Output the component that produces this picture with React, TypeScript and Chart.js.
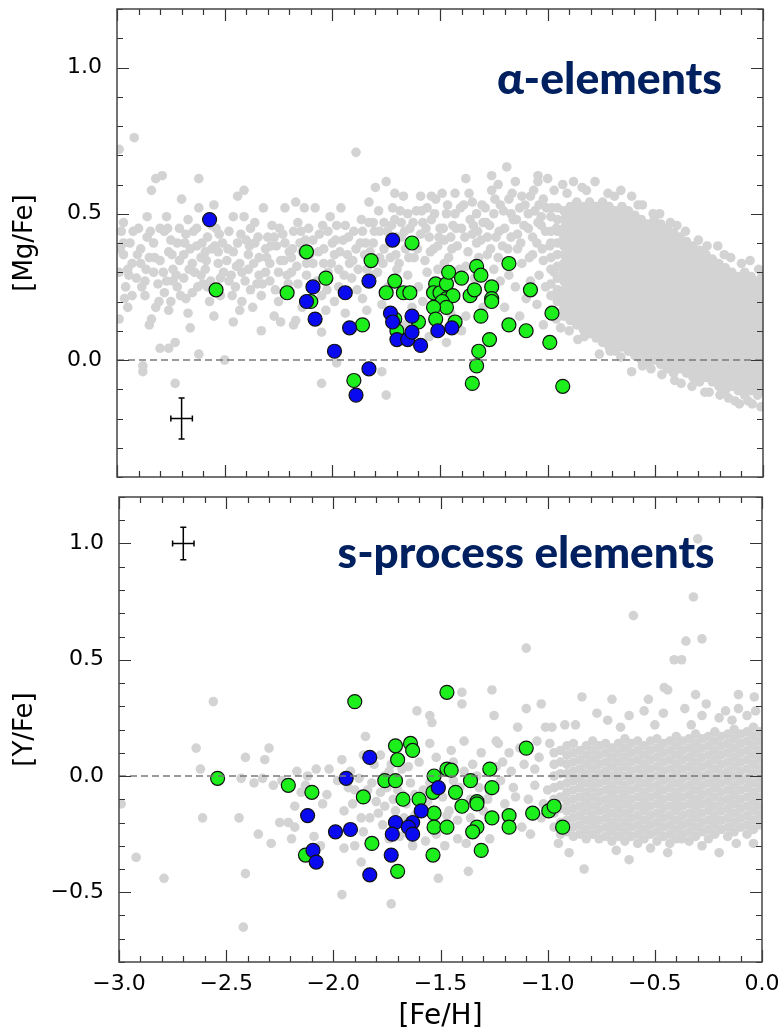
import React, { useEffect, useRef } from "react";
import { Chart, registerables } from "chart.js";

Chart.register(...registerables);

// ---------------- data ----------------
const xRange = [-3.0, 0.0];
const topYRange = [-0.4, 1.2];
const botYRange = [-0.8, 1.2];
const zeroLineX = [-3.0, 0.0];

const xTitle = "[Fe/H]";
const topYTitle = "[Mg/Fe]";
const botYTitle = "[Y/Fe]";
const topLabel = "α-elements";
const botLabel = "s-process elements";

// representative error bars
const topErrX = [-2.7];
const topErrY = [-0.2];
const botErrX = [-2.7];
const botErrY = [1.0];
const errXSize = [0.05];
const errYSize = [0.07];

const topGreen: [number, number][] = [
  [-2.54, 0.24], [-2.21, 0.23], [-2.12, 0.37], [-2.10, 0.20], [-2.03, 0.28], [-1.86, 0.12],
  [-1.82, 0.34], [-1.90, -0.07], [-1.75, 0.23], [-1.71, 0.27], [-1.67, 0.23], [-1.64, 0.23],
  [-1.63, 0.40], [-1.70, 0.10], [-1.71, 0.14], [-1.60, 0.13], [-1.52, 0.26], [-1.53, 0.23],
  [-1.50, 0.23], [-1.47, 0.26], [-1.47, 0.21], [-1.44, 0.22], [-1.49, 0.20], [-1.47, 0.18],
  [-1.53, 0.18], [-1.52, 0.14], [-1.43, 0.13], [-1.46, 0.30], [-1.40, 0.28], [-1.33, 0.32],
  [-1.31, 0.29], [-1.18, 0.33], [-1.36, 0.22], [-1.34, 0.24], [-1.26, 0.25], [-1.26, 0.21],
  [-1.26, 0.20], [-1.31, 0.15], [-1.18, 0.12], [-1.27, 0.07], [-1.32, 0.03], [-1.33, -0.02],
  [-1.35, -0.08], [-1.08, 0.24], [-0.98, 0.16], [-1.10, 0.10], [-0.99, 0.06], [-0.93, -0.09],
];

const topBlue: [number, number][] = [
  [-2.57, 0.48], [-2.12, 0.20], [-2.09, 0.25], [-2.08, 0.14], [-1.94, 0.23], [-1.92, 0.11],
  [-1.99, 0.03], [-1.83, 0.27], [-1.83, -0.03], [-1.89, -0.12], [-1.72, 0.41], [-1.73, 0.16],
  [-1.72, 0.13], [-1.70, 0.07], [-1.65, 0.07], [-1.63, 0.15], [-1.63, 0.095], [-1.59, 0.05],
  [-1.51, 0.10], [-1.445, 0.11],
];

// comparison stars, scattered halo + outskirts
const topGray: [number, number][] = [
  [-2.99, 0.72], [-2.98, 0.44], [-2.97, 0.36], [-2.99, 0.30], [-2.96, 0.25], [-2.94, 0.40], [-2.93, 0.33], [-2.92, 0.76], [-2.95, 0.18], [-2.91, 0.28], [-2.99, 0.14], [-2.97, 0.47],
  [-2.88, -0.02], [-2.88, -0.04], [-2.86, 0.42], [-2.84, 0.58], [-2.82, 0.62], [-2.85, 0.35], [-2.83, 0.30], [-2.87, 0.22], [-2.81, 0.26], [-2.89, 0.38], [-2.84, 0.14], [-2.85, 0.12], [-2.80, 0.45],
  [-2.79, 0.63], [-2.78, 0.44], [-2.76, 0.37], [-2.74, 0.31], [-2.77, 0.27], [-2.72, 0.40], [-2.75, 0.20], [-2.71, 0.34], [-2.73, -0.08], [-2.80, 0.04], [-2.76, 0.04], [-2.73, 0.06], [-2.70, 0.55], [-2.76, 0.17], [-2.72, 0.25],
  [-2.62, 0.62], [-2.62, 0.52], [-2.68, 0.43], [-2.66, 0.38], [-2.64, 0.30], [-2.69, 0.28], [-2.61, 0.35], [-2.65, 0.23], [-2.62, 0.02], [-2.67, 0.16], [-2.63, 0.45], [-2.60, 0.26], [-2.66, 0.11],
  [-2.55, 0.53], [-2.58, 0.42], [-2.56, 0.38], [-2.53, 0.33], [-2.59, 0.31], [-2.52, 0.28], [-2.57, 0.20], [-2.54, 0.45], [-2.51, 0.40], [-2.55, 0.15], [-2.50, 0.00],
  [-2.44, 0.56], [-2.41, 0.58], [-2.41, 0.49], [-2.48, 0.44], [-2.46, 0.37], [-2.43, 0.33], [-2.47, 0.29], [-2.45, 0.25], [-2.42, 0.20], [-2.40, 0.41], [-2.46, 0.13], [-2.43, 0.17],
  [-2.32, 0.52], [-2.38, 0.45], [-2.36, 0.40], [-2.34, 0.35], [-2.31, 0.30], [-2.39, 0.31], [-2.35, 0.26], [-2.33, 0.22], [-2.30, 0.42], [-2.37, 0.18], [-2.33, 0.10],
  [-2.22, 0.52], [-2.28, 0.46], [-2.26, 0.39], [-2.24, 0.34], [-2.21, 0.29], [-2.29, 0.27], [-2.25, 0.20], [-2.23, 0.43], [-2.27, 0.15], [-2.20, 0.37], [-2.24, 0.13],
  [-2.17, 0.54], [-2.13, 0.52], [-2.18, 0.44], [-2.15, 0.40], [-2.12, 0.33], [-2.19, 0.30], [-2.16, 0.26], [-2.14, 0.18], [-2.11, 0.45], [-2.18, 0.12], [-2.17, 0.135],
  [-2.08, 0.52], [-2.01, 0.49], [-2.06, 0.43], [-2.04, 0.38], [-2.09, 0.33], [-2.02, 0.30], [-2.05, 0.22], [-2.03, 0.17], [-2.00, 0.40], [-2.05, 0.095], [-2.05, -0.08],
  [-1.98, 0.46], [-1.95, 0.41], [-1.93, 0.36], [-1.97, 0.31], [-1.91, 0.28], [-1.99, 0.20], [-1.94, 0.16], [-1.89, 0.71], [-1.96, 0.52], [-1.98, -0.01], [-1.90, 0.44],
  [-1.80, 0.59], [-1.83, 0.54], [-1.83, 0.47], [-1.81, 0.47], [-1.87, 0.40], [-1.85, 0.36], [-1.88, 0.31], [-1.81, 0.29], [-1.86, 0.21], [-1.84, 0.17], [-1.75, -0.12], [-1.77, -0.04],
  [-1.75, 0.61], [-1.71, 0.57], [-1.71, 0.48], [-1.78, 0.44], [-1.76, 0.38], [-1.73, 0.35], [-1.79, 0.30], [-1.74, 0.25], [-1.77, 0.19], [-1.72, 0.52], [-1.70, 0.42],
  [-1.67, 0.56], [-1.61, 0.51], [-1.68, 0.47], [-1.64, 0.45], [-1.66, 0.38], [-1.62, 0.35], [-1.69, 0.33], [-1.65, 0.29], [-1.60, 0.25], [-1.63, 0.18], [-1.66, 0.12],
  [-1.59, 0.56], [-1.54, 0.56], [-1.56, 0.52], [-1.52, 0.55], [-1.58, 0.47], [-1.55, 0.42], [-1.53, 0.38], [-1.57, 0.34], [-1.51, 0.31], [-1.58, 0.20], [-1.55, 0.08], [-1.50, 0.45],
  [-1.49, 0.57], [-1.43, 0.57], [-1.47, 0.50], [-1.44, 0.46], [-1.48, 0.41], [-1.42, 0.39], [-1.46, 0.35], [-1.41, 0.31], [-1.45, 0.16], [-1.40, 0.10], [-1.47, 0.06],
  [-1.38, 0.62], [-1.36, 0.48], [-1.39, 0.53], [-1.33, 0.50], [-1.35, 0.43], [-1.31, 0.41], [-1.37, 0.37], [-1.32, 0.35], [-1.34, 0.28], [-1.30, 0.18], [-1.38, 0.15],
  [-1.26, 0.63], [-1.23, 0.60], [-1.26, 0.58], [-1.29, 0.52], [-1.22, 0.53], [-1.27, 0.46], [-1.24, 0.42], [-1.21, 0.39], [-1.28, 0.36], [-1.25, 0.31], [-1.22, 0.27], [-1.20, 0.18],
  [-1.19, 0.66], [-1.15, 0.61], [-1.18, 0.55], [-1.13, 0.52], [-1.16, 0.48], [-1.11, 0.46], [-1.17, 0.42], [-1.14, 0.38], [-1.12, 0.33], [-1.18, 0.29], [-1.15, 0.25], [-1.10, 0.21], [-1.13, 0.15],
  [-1.045, 0.63], [-1.045, 0.61], [-1.00, 0.62], [-1.08, 0.56], [-1.02, 0.55], [-1.06, 0.51], [-1.03, 0.49], [-1.09, 0.45], [-1.01, 0.44], [-1.05, 0.40], [-1.07, 0.36], [-1.02, 0.34], [-1.04, 0.29], [-1.08, 0.27], [-1.01, 0.25], [-1.05, 0.19], [-1.02, 0.12],
  [-2.97, 0.40], [-2.95, 0.31], [-2.93, 0.22], [-2.90, 0.45], [-2.89, 0.33], [-2.87, 0.27], [-2.86, 0.49], [-2.83, 0.40], [-2.82, 0.18], [-2.80, 0.34], [-2.78, 0.23], [-2.77, 0.49], [-2.75, 0.41], [-2.74, 0.27], [-2.71, 0.45], [-2.69, 0.36], [-2.68, 0.21], [-2.67, 0.48], [-2.65, 0.33], [-2.63, 0.39], [-2.61, 0.29], [-2.59, 0.37], [-2.58, 0.25], [-2.56, 0.46], [-2.53, 0.37], [-2.52, 0.22], [-2.49, 0.34], [-2.48, 0.27], [-2.46, 0.49], [-2.44, 0.40], [-2.42, 0.30], [-2.39, 0.36], [-2.38, 0.24], [-2.36, 0.47], [-2.34, 0.29], [-2.31, 0.38], [-2.29, 0.33], [-2.27, 0.42], [-2.25, 0.30], [-2.22, 0.40], [-2.19, 0.35], [-2.16, 0.47], [-2.14, 0.37], [-2.12, 0.29], [-2.09, 0.41], [-2.07, 0.27], [-2.04, 0.33], [-2.02, 0.44], [-1.99, 0.36], [-1.97, 0.25], [-1.94, 0.46], [-1.92, 0.33], [-1.89, 0.38], [-1.86, 0.44], [-1.84, 0.31], [-1.81, 0.40], [-1.78, 0.35], [-1.76, 0.47], [-1.73, 0.40], [-1.70, 0.31], [-1.68, 0.42], [-1.65, 0.50], [-1.62, 0.40], [-1.59, 0.43], [-1.56, 0.30], [-1.54, 0.48], [-1.51, 0.39], [-1.48, 0.33], [-1.45, 0.42], [-1.43, 0.50], [-1.40, 0.45], [-1.38, 0.32], [-1.35, 0.54], [-1.33, 0.40], [-1.30, 0.47], [-1.28, 0.42], [-1.25, 0.50], [-1.23, 0.35], [-1.20, 0.45], [-1.17, 0.50], [-1.14, 0.43], [-1.12, 0.56], [-1.09, 0.50], [-1.07, 0.42], [-1.04, 0.53], [-1.03, 0.46],
  [-2.985, 0.38], [-2.965, 0.21], [-2.945, 0.29], [-2.925, 0.44], [-2.905, 0.36], [-2.885, 0.25], [-2.865, 0.31], [-2.845, 0.44], [-2.825, 0.35], [-2.805, 0.20], [-2.785, 0.30], [-2.765, 0.45], [-2.745, 0.36], [-2.725, 0.29], [-2.705, 0.22], [-2.685, 0.40], [-2.665, 0.31], [-2.645, 0.44], [-2.625, 0.25], [-2.605, 0.40], [-2.585, 0.34], [-2.565, 0.27], [-2.545, 0.39], [-2.525, 0.43], [-2.505, 0.30], [-2.485, 0.38], [-2.465, 0.22], [-2.445, 0.32], [-2.425, 0.43], [-2.405, 0.27], [-2.385, 0.39], [-2.365, 0.33], [-2.345, 0.42], [-2.325, 0.26], [-2.305, 0.35], [-2.285, 0.39], [-2.265, 0.24], [-2.245, 0.45], [-2.225, 0.34], [-2.205, 0.26], [-2.185, 0.38], [-2.165, 0.32], [-2.145, 0.44], [-2.125, 0.41], [-2.105, 0.36], [-2.085, 0.26], [-2.065, 0.37], [-2.045, 0.46], [-2.025, 0.24], [-2.005, 0.33],
  [-1.985, 0.41], [-1.965, 0.37], [-1.945, 0.29], [-1.925, 0.42], [-1.905, 0.34], [-1.885, 0.24], [-1.865, 0.48], [-1.845, 0.40], [-1.825, 0.37], [-1.805, 0.44], [-1.785, 0.51], [-1.765, 0.33], [-1.745, 0.44], [-1.725, 0.46], [-1.705, 0.36], [-1.685, 0.51], [-1.665, 0.44], [-1.645, 0.35], [-1.625, 0.47], [-1.605, 0.38], [-1.585, 0.51], [-1.565, 0.45], [-1.545, 0.37], [-1.525, 0.50], [-1.505, 0.42], [-1.485, 0.45], [-1.465, 0.53], [-1.445, 0.38], [-1.425, 0.45], [-1.405, 0.52], [-1.385, 0.42], [-1.365, 0.57], [-1.345, 0.46], [-1.325, 0.44], [-1.305, 0.53], [-1.285, 0.47], [-1.265, 0.38], [-1.245, 0.55], [-1.225, 0.44], [-1.205, 0.51], [-1.185, 0.38], [-1.165, 0.57], [-1.145, 0.48], [-1.125, 0.40], [-1.105, 0.53], [-1.085, 0.35], [-1.065, 0.58], [-1.045, 0.47], [-1.025, 0.38], [-1.005, 0.52],
  [-0.97, 0.58], [-0.93, 0.60], [-0.88, 0.61], [-0.84, 0.59], [-0.78, 0.61], [-0.66, 0.58], [-0.61, 0.56], [-0.56, 0.53], [-0.48, 0.50], [-0.40, 0.46], [-0.21, 0.39], [-0.15, 0.35], [-0.06, 0.34],
  [-0.94, 0.11], [-0.86, 0.07], [-0.76, 0.02], [-0.61, -0.04], [-0.52, -0.03], [-0.38, -0.08], [-0.25, -0.11], [-0.16, -0.13], [-0.11, -0.15], [-0.05, -0.15],
  [-0.91, 0.57], [-0.82, 0.58], [-0.72, 0.57], [-0.69, 0.56], [-0.58, 0.53], [-0.51, 0.50], [-0.43, 0.47], [-0.36, 0.44], [-0.30, 0.41], [-0.26, 0.39], [-0.18, 0.36], [-0.10, 0.33], [-0.02, 0.31],
  [-0.90, 0.10], [-0.83, 0.08], [-0.71, 0.03], [-0.66, 0.01], [-0.56, -0.02], [-0.47, -0.05], [-0.41, -0.07], [-0.33, -0.09], [-0.27, -0.11], [-0.20, -0.12], [-0.13, -0.14], [-0.07, -0.14], [-0.01, -0.16],
  [-0.98, 0.52], [-0.96, 0.45], [-0.97, 0.30], [-0.95, 0.22], [-0.99, 0.39], [-0.96, 0.14],
];

// dense thin-disk cloud of the comparison sample, read column by column: [Fe/H] -> [Mg/Fe] values
const topDiskCols: [number, number[]][] = [
  [-0.985, [0.17, 0.22, 0.26, 0.31, 0.35, 0.40, 0.44, 0.49]],
  [-0.955, [0.16, 0.20, 0.24, 0.28, 0.32, 0.36, 0.40, 0.44, 0.48, 0.52]],
  [-0.925, [0.15, 0.18, 0.21, 0.24, 0.27, 0.30, 0.33, 0.36, 0.39, 0.42, 0.45, 0.48, 0.51]],
  [-0.895, [0.135, 0.165, 0.195, 0.225, 0.255, 0.285, 0.315, 0.345, 0.375, 0.405, 0.435, 0.465, 0.495, 0.525]],
  [-0.865, [0.12, 0.15, 0.18, 0.21, 0.24, 0.27, 0.30, 0.33, 0.36, 0.39, 0.42, 0.45, 0.48, 0.51, 0.54]],
  [-0.835, [0.105, 0.135, 0.165, 0.195, 0.225, 0.255, 0.285, 0.315, 0.345, 0.375, 0.405, 0.435, 0.465, 0.495, 0.525]],
  [-0.805, [0.09, 0.12, 0.15, 0.18, 0.21, 0.24, 0.27, 0.30, 0.33, 0.36, 0.39, 0.42, 0.45, 0.48, 0.51, 0.54]],
  [-0.775, [0.075, 0.105, 0.135, 0.165, 0.195, 0.225, 0.255, 0.285, 0.315, 0.345, 0.375, 0.405, 0.435, 0.465, 0.495, 0.525]],
  [-0.745, [0.06, 0.09, 0.12, 0.15, 0.18, 0.21, 0.24, 0.27, 0.30, 0.33, 0.36, 0.39, 0.42, 0.45, 0.48, 0.51, 0.54]],
  [-0.715, [0.045, 0.075, 0.105, 0.135, 0.165, 0.195, 0.225, 0.255, 0.285, 0.315, 0.345, 0.375, 0.405, 0.435, 0.465, 0.495, 0.525]],
  [-0.685, [0.03, 0.06, 0.09, 0.12, 0.15, 0.18, 0.21, 0.24, 0.27, 0.30, 0.33, 0.36, 0.39, 0.42, 0.45, 0.48, 0.51]],
  [-0.655, [0.045, 0.075, 0.105, 0.135, 0.165, 0.195, 0.225, 0.255, 0.285, 0.315, 0.345, 0.375, 0.405, 0.435, 0.465, 0.495, 0.525]],
  [-0.625, [0.03, 0.06, 0.09, 0.12, 0.15, 0.18, 0.21, 0.24, 0.27, 0.30, 0.33, 0.36, 0.39, 0.42, 0.45, 0.48, 0.51]],
  [-0.595, [0.015, 0.045, 0.075, 0.105, 0.135, 0.165, 0.195, 0.225, 0.255, 0.285, 0.315, 0.345, 0.375, 0.405, 0.435, 0.465, 0.495]],
  [-0.565, [0.00, 0.03, 0.06, 0.09, 0.12, 0.15, 0.18, 0.21, 0.24, 0.27, 0.30, 0.33, 0.36, 0.39, 0.42, 0.45, 0.48]],
  [-0.535, [-0.015, 0.015, 0.045, 0.075, 0.105, 0.135, 0.165, 0.195, 0.225, 0.255, 0.285, 0.315, 0.345, 0.375, 0.405, 0.435, 0.465]],
  [-0.505, [0.00, 0.03, 0.06, 0.09, 0.12, 0.15, 0.18, 0.21, 0.24, 0.27, 0.30, 0.33, 0.36, 0.39, 0.42, 0.45, 0.48]],
  [-0.475, [-0.015, 0.015, 0.045, 0.075, 0.105, 0.135, 0.165, 0.195, 0.225, 0.255, 0.285, 0.315, 0.345, 0.375, 0.405, 0.435, 0.465]],
  [-0.445, [-0.03, 0.00, 0.03, 0.06, 0.09, 0.12, 0.15, 0.18, 0.21, 0.24, 0.27, 0.30, 0.33, 0.36, 0.39, 0.42, 0.45]],
  [-0.415, [-0.045, -0.015, 0.015, 0.045, 0.075, 0.105, 0.135, 0.165, 0.195, 0.225, 0.255, 0.285, 0.315, 0.345, 0.375, 0.405, 0.435]],
  [-0.385, [-0.03, 0.00, 0.03, 0.06, 0.09, 0.12, 0.15, 0.18, 0.21, 0.24, 0.27, 0.30, 0.33, 0.36, 0.39, 0.42]],
  [-0.355, [-0.045, -0.015, 0.015, 0.045, 0.075, 0.105, 0.135, 0.165, 0.195, 0.225, 0.255, 0.285, 0.315, 0.345, 0.375, 0.405]],
  [-0.325, [-0.06, -0.03, 0.00, 0.03, 0.06, 0.09, 0.12, 0.15, 0.18, 0.21, 0.24, 0.27, 0.30, 0.33, 0.36, 0.39]],
  [-0.295, [-0.075, -0.045, -0.015, 0.015, 0.045, 0.075, 0.105, 0.135, 0.165, 0.195, 0.225, 0.255, 0.285, 0.315, 0.345, 0.375]],
  [-0.265, [-0.06, -0.03, 0.00, 0.03, 0.06, 0.09, 0.12, 0.15, 0.18, 0.21, 0.24, 0.27, 0.30, 0.33, 0.36]],
  [-0.235, [-0.075, -0.045, -0.015, 0.015, 0.045, 0.075, 0.105, 0.135, 0.165, 0.195, 0.225, 0.255, 0.285, 0.315, 0.345]],
  [-0.205, [-0.09, -0.06, -0.03, 0.00, 0.03, 0.06, 0.09, 0.12, 0.15, 0.18, 0.21, 0.24, 0.27, 0.30, 0.33]],
  [-0.175, [-0.105, -0.075, -0.045, -0.015, 0.015, 0.045, 0.075, 0.105, 0.135, 0.165, 0.195, 0.225, 0.255, 0.285, 0.315]],
  [-0.145, [-0.09, -0.06, -0.03, 0.00, 0.03, 0.06, 0.09, 0.12, 0.15, 0.18, 0.21, 0.24, 0.27, 0.30]],
  [-0.115, [-0.105, -0.075, -0.045, -0.015, 0.015, 0.045, 0.075, 0.105, 0.135, 0.165, 0.195, 0.225, 0.255, 0.285]],
  [-0.085, [-0.12, -0.09, -0.06, -0.03, 0.00, 0.03, 0.06, 0.09, 0.12, 0.15, 0.18, 0.21, 0.24, 0.27, 0.30]],
  [-0.055, [-0.105, -0.075, -0.045, -0.015, 0.015, 0.045, 0.075, 0.105, 0.135, 0.165, 0.195, 0.225, 0.255, 0.285]],
  [-0.025, [-0.12, -0.09, -0.06, -0.03, 0.00, 0.03, 0.06, 0.09, 0.12, 0.15, 0.18, 0.21, 0.24, 0.27]],
  [-0.005, [-0.105, -0.075, -0.045, -0.015, 0.015, 0.045, 0.075, 0.105, 0.135, 0.165, 0.195, 0.225, 0.255, 0.285]],
];

const botGreen: [number, number][] = [
  [-2.54, -0.01], [-2.21, -0.04], [-2.10, -0.07], [-2.13, -0.34], [-1.90, 0.32], [-1.86, -0.09],
  [-1.82, -0.29], [-1.71, 0.13], [-1.64, 0.14], [-1.63, 0.11], [-1.70, 0.07], [-1.76, -0.02],
  [-1.71, -0.02], [-1.675, -0.10], [-1.60, -0.10], [-1.70, -0.41], [-1.47, 0.36], [-1.53, 0.00],
  [-1.535, -0.07], [-1.53, -0.16], [-1.53, -0.22], [-1.535, -0.34], [-1.10, 0.12], [-1.47, 0.03],
  [-1.45, 0.025], [-1.27, 0.03], [-1.36, -0.02], [-1.26, -0.05], [-1.43, -0.07], [-1.40, -0.13],
  [-1.33, -0.11], [-1.33, -0.12], [-1.26, -0.18], [-1.18, -0.17], [-1.07, -0.16], [-0.995, -0.15],
  [-0.97, -0.13], [-0.93, -0.22], [-1.18, -0.22], [-1.33, -0.22], [-1.35, -0.24], [-1.47, -0.22],
  [-1.31, -0.32],
];

const botBlue: [number, number][] = [
  [-2.12, -0.17], [-1.99, -0.24], [-1.92, -0.23], [-2.095, -0.32], [-2.08, -0.37], [-1.94, -0.01],
  [-1.83, 0.08], [-1.83, -0.425], [-1.59, -0.15], [-1.71, -0.20], [-1.63, -0.20], [-1.65, -0.22],
  [-1.725, -0.25], [-1.63, -0.25], [-1.73, -0.34], [-1.51, -0.05],
];

const botGray: [number, number][] = [
  [-2.99, -0.12], [-2.92, -0.35], [-2.79, -0.44],
  [-2.64, 0.12], [-2.62, 0.03], [-2.61, -0.18], [-2.56, 0.32],
  [-2.41, 0.08], [-2.43, -0.01], [-2.44, -0.18], [-2.41, -0.42], [-2.42, -0.65],
  [-2.37, -0.03], [-2.33, -0.01], [-2.32, 0.07], [-2.30, 0.12], [-2.35, -0.25],
  [-2.28, -0.04], [-2.29, -0.29], [-2.25, -0.20], [-2.21, -0.20], [-2.24, -0.02],
  [-2.17, 0.02], [-2.18, -0.22], [-2.18, -0.13], [-2.195, -0.27], [-2.15, -0.07], [-2.13, -0.04], [-2.12, 0.00],
  [-2.08, 0.03], [-2.02, 0.03], [-2.09, -0.26], [-2.05, -0.12], [-2.03, -0.08], [-2.06, -0.30],
  [-1.96, 0.07], [-1.96, -0.51], [-1.95, -0.31], [-1.90, -0.30], [-1.93, -0.05], [-1.91, -0.12], [-1.98, -0.02], [-1.92, 0.02],
  [-1.85, 0.17], [-1.87, -0.37], [-1.87, -0.18], [-1.83, -0.18], [-1.80, -0.11], [-1.84, -0.06], [-1.81, 0.05], [-1.88, -0.01], [-1.86, 0.09],
  [-1.78, 0.09], [-1.78, -0.07], [-1.75, -0.05], [-1.73, -0.55], [-1.76, -0.13], [-1.72, -0.10], [-1.74, 0.02], [-1.71, -0.15], [-1.77, -0.21], [-1.73, 0.05],
  [-1.68, -0.08], [-1.66, -0.12], [-1.64, -0.03], [-1.62, -0.17], [-1.69, -0.26], [-1.61, 0.28], [-1.65, 0.04], [-1.63, -0.30], [-1.67, -0.18],
  [-1.55, 0.14], [-1.55, 0.26], [-1.54, 0.23], [-1.58, -0.06], [-1.56, -0.11], [-1.53, -0.19], [-1.51, -0.44], [-1.57, -0.28], [-1.52, 0.08],
  [-1.42, -0.27], [-1.40, 0.36], [-1.40, 0.31], [-1.39, 0.15], [-1.46, -0.15], [-1.44, 0.06], [-1.48, -0.30], [-1.41, -0.05], [-1.45, 0.11],
  [-1.37, -0.41], [-1.35, 0.05], [-1.32, -0.05], [-1.36, -0.18], [-1.31, 0.10], [-1.38, -0.29],
  [-1.26, 0.37], [-1.25, 0.26], [-1.24, 0.15], [-1.23, 0.14], [-1.28, -0.10], [-1.22, -0.02], [-1.21, 0.06], [-1.27, -0.27],
  [-1.14, 0.21], [-1.17, 0.02], [-1.15, -0.09], [-1.12, -0.22], [-1.18, 0.10], [-1.11, 0.05],
  [-1.10, 0.55], [-1.10, 0.29], [-1.03, 0.31], [-1.01, 0.21], [-1.06, -0.04], [-1.04, 0.08], [-1.02, -0.12], [-1.08, -0.25], [-1.05, 0.15],
  [-1.95, -0.15], [-1.90, -0.06], [-1.86, -0.24], [-1.82, -0.03], [-1.79, -0.16], [-1.76, 0.00], [-1.74, -0.27], [-1.70, -0.06], [-1.68, 0.03], [-1.66, -0.24], [-1.62, -0.08], [-1.60, 0.06], [-1.58, -0.14], [-1.55, -0.03], [-1.52, -0.25], [-1.49, -0.09], [-1.47, -0.17], [-1.44, -0.02], [-1.42, -0.19], [-1.39, 0.02], [-1.36, -0.10], [-1.33, 0.00], [-1.30, -0.15], [-1.27, -0.07], [-1.24, 0.04], [-1.20, -0.12], [-1.16, -0.05], [-1.13, 0.12], [-1.09, -0.10], [-1.06, 0.03], [-1.03, -0.18], [-1.00, -0.06], [-0.99, 0.14],
  [-0.98, 0.21], [-0.95, -0.29], [-0.87, 0.22], [-0.84, 0.34], [-0.83, -0.40], [-0.72, 0.24], [-0.60, 0.69], [-0.55, 0.28], [-0.53, 0.33],
  [-0.41, 0.50], [-0.456, 0.38], [-0.44, 0.37], [-0.375, 0.50], [-0.355, 0.58], [-0.32, 0.77], [-0.30, 1.02], [-0.31, 0.35], [-0.36, 0.29],
  [-0.28, 0.59], [-0.28, 0.26], [-0.20, 0.25], [-0.17, 0.28], [-0.11, 0.35], [-0.11, 0.29], [-0.036, 0.34], [-0.375, -0.27], [-0.20, -0.33], [-0.04, -0.29],
  [-0.92, 0.22], [-0.77, 0.27], [-0.66, 0.21], [-0.50, 0.22], [-0.46, 0.27], [-0.33, 0.22], [-0.26, 0.31], [-0.14, 0.24], [-0.07, 0.26], [-0.03, 0.28], [-0.70, 0.33], [-0.62, 0.26],
  [-0.90, -0.33], [-0.68, -0.32], [-0.52, -0.31], [-0.44, -0.33], [-0.28, -0.30], [-0.12, -0.29], [-0.62, -0.36],
];

// dense thin-disk cloud for [Y/Fe], read column by column
const botDiskCols: [number, number[]][] = [
  [-0.97, [-0.22, -0.16, -0.10, -0.05, 0.00, 0.05, 0.10]],
  [-0.94, [-0.25, -0.20, -0.14, -0.09, -0.04, 0.01, 0.06, 0.11]],
  [-0.91, [-0.24, -0.19, -0.15, -0.11, -0.07, -0.03, 0.01, 0.05, 0.09, 0.13]],
  [-0.88, [-0.26, -0.22, -0.18, -0.14, -0.10, -0.06, -0.02, 0.02, 0.06, 0.10, 0.14]],
  [-0.85, [-0.25, -0.21, -0.17, -0.13, -0.09, -0.05, -0.01, 0.03, 0.07, 0.11]],
  [-0.82, [-0.27, -0.23, -0.19, -0.15, -0.11, -0.07, -0.03, 0.01, 0.05, 0.09, 0.13]],
  [-0.79, [-0.25, -0.21, -0.17, -0.13, -0.09, -0.05, -0.01, 0.03, 0.07, 0.11, 0.15]],
  [-0.76, [-0.27, -0.23, -0.19, -0.15, -0.11, -0.07, -0.03, 0.01, 0.05, 0.09, 0.13]],
  [-0.73, [-0.26, -0.22, -0.18, -0.14, -0.10, -0.06, -0.02, 0.02, 0.06, 0.10, 0.14]],
  [-0.70, [-0.28, -0.24, -0.20, -0.16, -0.12, -0.08, -0.04, 0.00, 0.04, 0.08, 0.12]],
  [-0.67, [-0.26, -0.22, -0.18, -0.14, -0.10, -0.06, -0.02, 0.02, 0.06, 0.10, 0.14]],
  [-0.64, [-0.28, -0.24, -0.20, -0.16, -0.12, -0.08, -0.04, 0.00, 0.04, 0.08, 0.12, 0.16]],
  [-0.61, [-0.26, -0.22, -0.18, -0.14, -0.10, -0.06, -0.02, 0.02, 0.06, 0.10, 0.14]],
  [-0.58, [-0.29, -0.25, -0.21, -0.17, -0.13, -0.09, -0.05, -0.01, 0.03, 0.07, 0.11, 0.15]],
  [-0.55, [-0.27, -0.23, -0.19, -0.15, -0.11, -0.07, -0.03, 0.01, 0.05, 0.09, 0.13]],
  [-0.52, [-0.25, -0.21, -0.17, -0.13, -0.09, -0.05, -0.01, 0.03, 0.07, 0.11, 0.15]],
  [-0.49, [-0.28, -0.24, -0.20, -0.16, -0.12, -0.08, -0.04, 0.00, 0.04, 0.08, 0.12, 0.16]],
  [-0.46, [-0.26, -0.22, -0.18, -0.14, -0.10, -0.06, -0.02, 0.02, 0.06, 0.10, 0.14]],
  [-0.43, [-0.29, -0.25, -0.21, -0.17, -0.13, -0.09, -0.05, -0.01, 0.03, 0.07, 0.11, 0.15]],
  [-0.40, [-0.27, -0.23, -0.19, -0.15, -0.11, -0.07, -0.03, 0.01, 0.05, 0.09, 0.13, 0.17]],
  [-0.37, [-0.25, -0.21, -0.17, -0.13, -0.09, -0.05, -0.01, 0.03, 0.07, 0.11, 0.15]],
  [-0.34, [-0.28, -0.24, -0.20, -0.16, -0.12, -0.08, -0.04, 0.00, 0.04, 0.08, 0.12, 0.16]],
  [-0.31, [-0.26, -0.22, -0.18, -0.14, -0.10, -0.06, -0.02, 0.02, 0.06, 0.10, 0.14, 0.18]],
  [-0.28, [-0.24, -0.20, -0.16, -0.12, -0.08, -0.04, 0.00, 0.04, 0.08, 0.12, 0.16]],
  [-0.25, [-0.27, -0.23, -0.19, -0.15, -0.11, -0.07, -0.03, 0.01, 0.05, 0.09, 0.13, 0.17]],
  [-0.22, [-0.25, -0.21, -0.17, -0.13, -0.09, -0.05, -0.01, 0.03, 0.07, 0.11, 0.15, 0.19]],
  [-0.19, [-0.23, -0.19, -0.15, -0.11, -0.07, -0.03, 0.01, 0.05, 0.09, 0.13, 0.17]],
  [-0.16, [-0.26, -0.22, -0.18, -0.14, -0.10, -0.06, -0.02, 0.02, 0.06, 0.10, 0.14, 0.18]],
  [-0.13, [-0.24, -0.20, -0.16, -0.12, -0.08, -0.04, 0.00, 0.04, 0.08, 0.12, 0.16, 0.20]],
  [-0.10, [-0.22, -0.18, -0.14, -0.10, -0.06, -0.02, 0.02, 0.06, 0.10, 0.14, 0.18]],
  [-0.07, [-0.25, -0.21, -0.17, -0.13, -0.09, -0.05, -0.01, 0.03, 0.07, 0.11, 0.15, 0.19]],
  [-0.04, [-0.23, -0.19, -0.15, -0.11, -0.07, -0.03, 0.01, 0.05, 0.09, 0.13, 0.17, 0.21]],
  [-0.01, [-0.21, -0.17, -0.13, -0.09, -0.05, -0.01, 0.03, 0.07, 0.11, 0.15, 0.19]],
];

// ---------------- helpers ----------------
const FONT = "'DejaVu Sans', 'Liberation Sans', sans-serif";
const isMajor = (v: number) => Math.abs(v * 2 - Math.round(v * 2)) < 1e-6;
const fmtTick = (v: number) => {
  const r = Math.round(v * 10) / 10;
  if (!isMajor(r)) return "";
  const s = Math.abs(r).toFixed(1);
  return r < -1e-9 ? "\u2212" + s : s;
};
const colsToPoints = (cols: [number, number[]][]): [number, number][] =>
  cols.flatMap(([x, ys]) => ys.map((y) => [x, y] as [number, number]));

type PanelCfg = {
  green: [number, number][];
  blue: [number, number][];
  gray: [number, number][];
  yRange: number[];
  yTitle: string;
  showX: boolean;
  label: string;
  labelX: number;
  labelY: number;
  labelW: number;
  errX: number[];
  errY: number[];
  yAxisW: number;
  xAxisH: number;
  padTop: number;
  padRight: number;
};

function panelPlugin(p: PanelCfg) {
  return {
    id: "panelDecor",
    afterDatasetsDraw(chart: any) {
      const { ctx, scales } = chart;
      const xs = scales.x, ys = scales.y;
      ctx.save();
      ctx.strokeStyle = "#000";
      ctx.lineWidth = 1.5;
      for (let i = 0; i < p.errX.length; i++) {
        const cx = xs.getPixelForValue(p.errX[i]);
        const cy = ys.getPixelForValue(p.errY[i]);
        const x0 = xs.getPixelForValue(p.errX[i] - errXSize[0]);
        const x1 = xs.getPixelForValue(p.errX[i] + errXSize[0]);
        const y0 = ys.getPixelForValue(p.errY[i] - errYSize[0]);
        const y1 = ys.getPixelForValue(p.errY[i] + errYSize[0]);
        const cap = 3;
        ctx.beginPath();
        ctx.moveTo(x0, cy); ctx.lineTo(x1, cy);
        ctx.moveTo(cx, y0); ctx.lineTo(cx, y1);
        ctx.moveTo(x0, cy - cap); ctx.lineTo(x0, cy + cap);
        ctx.moveTo(x1, cy - cap); ctx.lineTo(x1, cy + cap);
        ctx.moveTo(cx - cap, y0); ctx.lineTo(cx + cap, y0);
        ctx.moveTo(cx - cap, y1); ctx.lineTo(cx + cap, y1);
        ctx.stroke();
      }
      ctx.restore();
    },
    afterDraw(chart: any) {
      const { ctx, chartArea: a, scales } = chart;
      const xs = scales.x, ys = scales.y;
      ctx.save();
      ctx.strokeStyle = "#333";
      ctx.lineWidth = 1.2;
      ctx.beginPath();
      for (const t of xs.ticks) {
        const px = Math.round(xs.getPixelForValue(t.value)) + 0.5;
        const L = isMajor(t.value) ? 12 : 6;
        ctx.moveTo(px, a.bottom); ctx.lineTo(px, a.bottom - L);
        ctx.moveTo(px, a.top); ctx.lineTo(px, a.top + L);
      }
      for (const t of ys.ticks) {
        const py = Math.round(ys.getPixelForValue(t.value)) + 0.5;
        const L = isMajor(t.value) ? 12 : 6;
        ctx.moveTo(a.left, py); ctx.lineTo(a.left + L, py);
        ctx.moveTo(a.right, py); ctx.lineTo(a.right - L, py);
      }
      ctx.stroke();
      ctx.strokeStyle = "#444";
      ctx.lineWidth = 1.5;
      ctx.strokeRect(a.left, a.top, a.right - a.left, a.bottom - a.top);
      ctx.fillStyle = "#002060";
      ctx.font = "900 43px Lato, 'Open Sans', sans-serif";
      ctx.textAlign = "left";
      ctx.textBaseline = "alphabetic";
      const w = ctx.measureText(p.label).width;
      const sx = w > 0 ? p.labelW / w : 1;
      ctx.translate(xs.getPixelForValue(p.labelX), ys.getPixelForValue(p.labelY));
      ctx.scale(sx, 1);
      ctx.fillText(p.label, 0, 0);
      ctx.restore();
    },
  };
}

function makeConfig(p: PanelCfg): any {
  const toPts = (arr: [number, number][]) => arr.map(([x, y]) => ({ x, y }));
  return {
    type: "scatter",
    data: {
      datasets: [
        {
          type: "line",
          data: zeroLineX.map((x) => ({ x, y: 0 })),
          borderColor: "#7a7a7a",
          borderDash: [7, 4],
          borderWidth: 1.5,
          pointRadius: 0,
          fill: false,
          order: 0,
        },
        {
          data: toPts(p.blue),
          backgroundColor: "#0a0af0",
          borderColor: "#111",
          borderWidth: 1.2,
          pointRadius: 7,
          order: 1,
        },
        {
          data: toPts(p.green),
          backgroundColor: "#1def1d",
          borderColor: "#111",
          borderWidth: 1.2,
          pointRadius: 7,
          order: 2,
        },
        {
          data: toPts(p.gray),
          backgroundColor: "#d3d3d3",
          borderWidth: 0,
          pointRadius: 4.8,
          order: 3,
        },
      ],
    },
    options: {
      animation: false,
      responsive: false,
      events: [],
      layout: { padding: { top: p.padTop, right: p.padRight, left: 0, bottom: 0 } },
      plugins: { legend: { display: false }, tooltip: { enabled: false } },
      scales: {
        x: {
          type: "linear",
          min: xRange[0],
          max: xRange[1],
          grid: { display: false, drawTicks: false },
          border: { display: false },
          ticks: {
            display: p.showX,
            stepSize: 0.1,
            autoSkip: false,
            maxTicksLimit: 100,
            maxRotation: 0,
            minRotation: 0,
            padding: 9,
            color: "#000",
            font: { family: FONT, size: 22 },
            callback: (v: number) => fmtTick(v),
          },
          title: {
            display: p.showX,
            text: xTitle,
            color: "#000",
            font: { family: FONT, size: 28 },
            padding: { top: 0, bottom: 1 },
          },
          afterFit: (s: any) => {
            s.height = p.xAxisH;
            s.paddingLeft = 0;
            s.paddingRight = 0;
          },
        },
        y: {
          type: "linear",
          min: p.yRange[0],
          max: p.yRange[1],
          grid: { display: false, drawTicks: false },
          border: { display: false },
          ticks: {
            stepSize: 0.1,
            autoSkip: false,
            maxTicksLimit: 100,
            padding: 15,
            color: "#000",
            font: { family: FONT, size: 22 },
            callback: (v: number) => fmtTick(v),
          },
          title: {
            display: true,
            text: p.yTitle,
            color: "#000",
            font: { family: FONT, size: 26 },
            padding: { top: 10, bottom: 0 },
          },
          afterFit: (s: any) => {
            s.width = p.yAxisW;
            s.paddingTop = 0;
            s.paddingBottom = 0;
          },
        },
      },
    },
    plugins: [panelPlugin(p)],
  };
}

export default function App() {
  const topRef = useRef<HTMLCanvasElement>(null);
  const botRef = useRef<HTMLCanvasElement>(null);

  useEffect(() => {
    const top = new Chart(
      topRef.current as HTMLCanvasElement,
      makeConfig({
        green: topGreen,
        blue: topBlue,
        gray: [...topGray, ...colsToPoints(topDiskCols)],
        yRange: topYRange,
        yTitle: topYTitle,
        showX: false,
        label: topLabel,
        labelX: -1.235,
        labelY: 0.909,
        labelW: 225,
        errX: topErrX,
        errY: topErrY,
        yAxisW: 117,
        xAxisH: 10,
        padTop: 9,
        padRight: 21,
      })
    );
    const bot = new Chart(
      botRef.current as HTMLCanvasElement,
      makeConfig({
        green: botGreen,
        blue: botBlue,
        gray: [...botGray, ...colsToPoints(botDiskCols)],
        yRange: botYRange,
        yTitle: botYTitle,
        showX: true,
        label: botLabel,
        labelX: -1.98,
        labelY: 0.895,
        labelW: 377,
        errX: botErrX,
        errY: botErrY,
        yAxisW: 119,
        xAxisH: 73,
        padTop: 10,
        padRight: 22,
      })
    );
    return () => {
      top.destroy();
      bot.destroy();
    };
  }, []);

  return (
    <div style={{ position: "absolute", left: 0, top: 0, width: 784, height: 1035, background: "#fff" }}>
      <canvas ref={topRef} width={784} height={487} style={{ position: "absolute", left: 0, top: 0 }} />
      <canvas ref={botRef} width={784} height={548} style={{ position: "absolute", left: 0, top: 487 }} />
    </div>
  );
}
